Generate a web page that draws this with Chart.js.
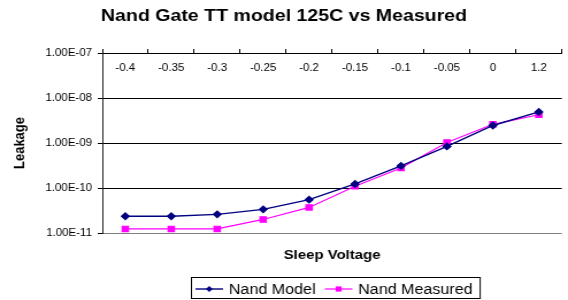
<!DOCTYPE html>
<html>
<head>
<meta charset="utf-8">
<script src="https://cdn.jsdelivr.net/npm/chart.js@4/dist/chart.umd.min.js"></script>
<style>
    html, body { margin: 0; padding: 0; background: #fff; overflow: hidden; }
    /* chart is drawn narrower and stretched sideways, like the original picture */
    .wrap { width: 494px; height: 300px; transform: scaleX(1.1498); transform-origin: 0 0; }
    #leakChart { display: block; }
</style>
</head>
<body>
<div class="wrap"><canvas id="leakChart" width="494" height="300"></canvas></div>
<script>
// ----------------------------------------
// Data
// ----------------------------------------

const voltages = ["-0.4", "-0.35", "-0.3", "-0.25", "-0.2", "-0.15", "-0.1", "-0.05", "0", "1.2"];
const modelLeakage = [2.35e-11, 2.35e-11, 2.6e-11, 3.35e-11, 5.5e-11, 1.23e-10, 3.1e-10, 8.4e-10, 2.45e-9, 4.9e-9];
const measuredLeakage = [1.23e-11, 1.23e-11, 1.23e-11, 2.0e-11, 3.7e-11, 1.09e-10, 2.78e-10, 1.03e-9, 2.6e-9, 4.25e-9];
const yTickValues = [1e-11, 1e-10, 1e-9, 1e-8, 1e-7];
const yTickLabels = ["1.00E-11", "1.00E-10", "1.00E-09", "1.00E-08", "1.00E-07"];

const FONT = "'Liberation Sans', Arial, sans-serif";
Chart.defaults.font.family = FONT;
Chart.defaults.color = "#000";

// ----------------------------------------
// Plugins: category labels inside plot, boxed legend
// ----------------------------------------

const topLabelsPlugin = {
    id: "topLabels",
    afterDraw(chart) {
        const ctx = chart.ctx;
        const xScale = chart.scales.x;
        ctx.save();
        ctx.font = "10px " + FONT;
        ctx.fillStyle = "#000";
        ctx.textAlign = "center";
        ctx.textBaseline = "middle";
        voltages.forEach((label, i) => {
            ctx.fillText(label, xScale.getPixelForValue(i), 68);
        });
        ctx.restore();
    }
};

const boxLegendPlugin = {
    id: "boxLegend",
    afterDraw(chart) {
        const ctx = chart.ctx;
        const boxLeft = 166, boxTop = 277, boxHeight = 22;
        const midY = 289;
        const lineLen = 24;
        ctx.save();
        ctx.font = "14px " + FONT;
        ctx.textBaseline = "middle";
        ctx.textAlign = "left";

        let x = boxLeft + 4;
        chart.data.datasets.forEach((ds) => {
            ctx.strokeStyle = ds.borderColor;
            ctx.lineWidth = ds.borderWidth;
            ctx.beginPath();
            ctx.moveTo(x, midY);
            ctx.lineTo(x + lineLen, midY);
            ctx.stroke();

            const cx = x + lineLen / 2;
            ctx.fillStyle = ds.pointBackgroundColor;
            ctx.beginPath();
            if (ds.pointStyle === "rectRot") {
                ctx.moveTo(cx, midY - 3);
                ctx.lineTo(cx + 3, midY);
                ctx.lineTo(cx, midY + 3);
                ctx.lineTo(cx - 3, midY);
                ctx.closePath();
            } else {
                ctx.rect(cx - 2.6, midY - 2.6, 5.2, 5.2);
            }
            ctx.fill();

            ctx.fillStyle = "#000";
            ctx.fillText(ds.label, x + lineLen + 5, midY + 1);
            x += lineLen + 5 + ctx.measureText(ds.label).width + 8;
        });

        ctx.strokeStyle = "#000";
        ctx.lineWidth = 1;
        ctx.strokeRect(boxLeft + 0.5, boxTop + 0.5, x - 2 - boxLeft, boxHeight - 1);
        ctx.restore();
    }
};

// ----------------------------------------
// Chart
// ----------------------------------------

new Chart(document.getElementById("leakChart"), {
    type: "line",
    data: {
        labels: voltages,
        datasets: [
            {
                label: "Nand Model",
                data: modelLeakage,
                borderColor: "#000080",
                backgroundColor: "#000080",
                pointBackgroundColor: "#000080",
                pointBorderColor: "#000080",
                pointStyle: "rectRot",
                pointRadius: 3.2,
                borderWidth: 1.4,
                tension: 0
            },
            {
                label: "Nand Measured",
                data: measuredLeakage,
                borderColor: "#ff00ff",
                backgroundColor: "#ff00ff",
                pointBackgroundColor: "#ff00ff",
                pointBorderColor: "#ff00ff",
                pointStyle: "rect",
                pointRadius: 3.8,
                borderWidth: 1.2,
                tension: 0
            }
        ]
    },
    options: {
        responsive: false,
        animation: false,
        devicePixelRatio: 1,
        layout: { padding: 0 },
        plugins: {
            legend: { display: false },
            tooltip: { enabled: false },
            title: {
                display: true,
                text: "Nand Gate TT model 125C vs Measured",
                font: { size: 17, weight: "bold" },
                color: "#000",
                padding: { top: 6, bottom: 0 }
            }
        },
        scales: {
            x: {
                type: "category",
                position: "top",
                offset: true,
                ticks: { display: false },
                grid: {
                    display: true,
                    drawOnChartArea: false,
                    drawTicks: true,
                    tickLength: 4,
                    color: "#000",
                    offset: true
                },
                border: { display: true, color: "#000" },
                afterFit: (scale) => { scale.height = 26.6; }
            },
            xb: {
                type: "category",
                position: "bottom",
                ticks: { display: false },
                grid: { display: false },
                border: { display: false },
                title: {
                    display: true,
                    text: "Sleep Voltage",
                    font: { size: 13, weight: "bold" },
                    color: "#000",
                    padding: { top: 0, bottom: 37 }
                },
                afterFit: (scale) => { scale.height = 67; }
            },
            y: {
                type: "logarithmic",
                position: "left",
                min: 1e-11,
                max: 1e-7,
                afterBuildTicks: (scale) => {
                    scale.ticks = yTickValues.map((v) => ({ value: v }));
                },
                ticks: {
                    autoSkip: false,
                    padding: 5,
                    font: { size: 10 },
                    color: "#000",
                    callback: (value, index) => yTickLabels[index]
                },
                grid: {
                    color: (ctx) => (ctx.tick && ctx.tick.value === 1e-11 ? "#808080" : "#000"),
                    drawTicks: true,
                    tickLength: 4,
                    tickColor: "#000"
                },
                border: { display: true, color: "#222" },
                title: {
                    display: true,
                    text: "Leakage",
                    font: { size: 13, weight: "bold" },
                    color: "#000",
                    padding: { top: 9.6, bottom: 0 }
                },
                afterFit: (scale) => { scale.width = 89; }
            }
        }
    },
    plugins: [topLabelsPlugin, boxLegendPlugin]
});
</script>
</body>
</html>
